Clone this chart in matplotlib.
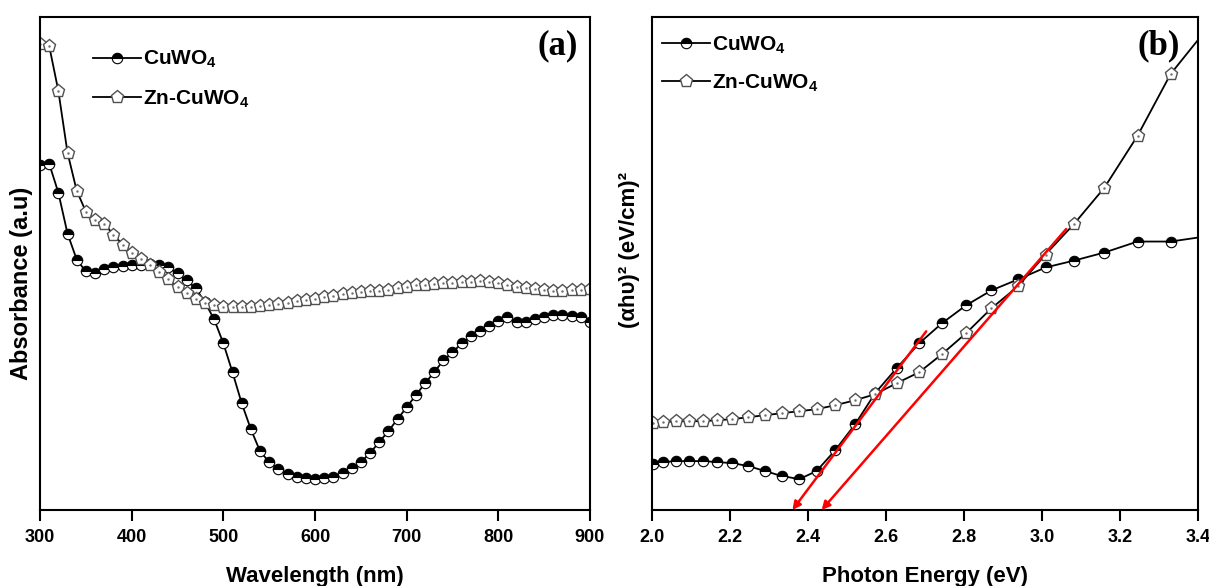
import matplotlib
matplotlib.use('Agg')
import matplotlib.pyplot as plt

# ---------------- data: panel (a) UV-vis absorbance ----------------
wavelength = list(range(300, 901, 10))
abs_cuwo4 = [3.46, 3.47, 3.18, 2.77, 2.51, 2.39, 2.37, 2.41, 2.43, 2.44,
             2.45, 2.45, 2.46, 2.45, 2.43, 2.37, 2.30, 2.22, 2.08, 1.91,
             1.67, 1.38, 1.07, 0.81, 0.59, 0.48, 0.41, 0.36, 0.33, 0.32,
             0.31, 0.32, 0.33, 0.37, 0.42, 0.48, 0.57, 0.68, 0.79, 0.91,
             1.03, 1.15, 1.27, 1.38, 1.50, 1.58, 1.67, 1.74, 1.79, 1.84,
             1.89, 1.93, 1.88, 1.88, 1.91, 1.93, 1.95, 1.95, 1.94, 1.93,
             1.88]
abs_zn_cuwo4 = [4.67, 4.65, 4.20, 3.58, 3.20, 2.99, 2.91, 2.87, 2.76, 2.66,
                2.58, 2.52, 2.45, 2.38, 2.31, 2.23, 2.17, 2.11, 2.07, 2.05,
                2.03, 2.03, 2.03, 2.03, 2.04, 2.05, 2.06, 2.07, 2.09, 2.10,
                2.11, 2.13, 2.14, 2.16, 2.17, 2.18, 2.19, 2.19, 2.20, 2.22,
                2.23, 2.25, 2.25, 2.26, 2.27, 2.27, 2.28, 2.28, 2.29, 2.28,
                2.27, 2.25, 2.23, 2.22, 2.21, 2.20, 2.19, 2.19, 2.20, 2.20,
                2.21]

# ---------------- data: panel (b) Tauc plot ----------------
photon_energy = [2.002, 2.027, 2.062, 2.096, 2.132, 2.167, 2.206, 2.247,
                 2.290, 2.333, 2.378, 2.422, 2.470, 2.521, 2.572, 2.627,
                 2.685, 2.743, 2.805, 2.870, 2.938, 3.009, 3.083, 3.160,
                 3.245, 3.330, 3.400]
tauc_cuwo4 = [0.46, 0.48, 0.49, 0.49, 0.49, 0.48, 0.47, 0.44, 0.39, 0.34,
              0.31, 0.39, 0.60, 0.86, 1.17, 1.42, 1.67, 1.87, 2.05, 2.20,
              2.31, 2.43, 2.50, 2.58, 2.69, 2.69, 2.73]
tauc_zn_cuwo4 = [0.87, 0.88, 0.89, 0.89, 0.89, 0.90, 0.91, 0.93, 0.95, 0.97,
                 0.99, 1.01, 1.05, 1.10, 1.16, 1.27, 1.38, 1.56, 1.77, 2.02,
                 2.24, 2.56, 2.87, 3.23, 3.75, 4.37, 4.71]

# band-gap extrapolation (tangent start -> intercept on energy axis)
band_gaps = [2.36, 2.435]
tangent_start_e = [2.703, 3.062]
tangent_start_y = [1.79, 2.815]

labels = ['CuWO$_4$', 'Zn-CuWO$_4$']
xticks_a = [300, 400, 500, 600, 700, 800, 900]
xticks_b = [2.0, 2.2, 2.4, 2.6, 2.8, 3.0, 3.2, 3.4]

# ---------------- style ----------------
SANS = ['Liberation Sans', 'DejaVu Sans']
plt.rcParams['font.family'] = SANS
plt.rcParams['font.weight'] = 'bold'
plt.rcParams['mathtext.fontset'] = 'custom'
plt.rcParams['mathtext.rm'] = 'Liberation Sans:bold'
plt.rcParams['mathtext.default'] = 'rm'

fig = plt.figure(figsize=(12.09, 5.86), dpi=100)
ax_a = fig.add_axes([0.0331, 0.1297, 0.4549, 0.8413])
ax_b = fig.add_axes([0.5393, 0.1297, 0.4516, 0.8413])

cu_style = dict(color='black', lw=1.3, marker='o', markersize=7.5,
                fillstyle='top', markerfacecolor='black',
                markerfacecoloralt='white', markeredgecolor='black',
                markeredgewidth=0.8)
zn_style = dict(color='black', lw=1.3, marker='p', markersize=9.5,
                markerfacecolor='white', markeredgecolor='#505050',
                markeredgewidth=1.0)
dot_style = dict(ls='none', marker='.', markersize=1.5, color='#707070')

# panel (a)
ax_a.plot(wavelength, abs_cuwo4, label=labels[0], **cu_style)
ax_a.plot(wavelength, abs_zn_cuwo4, label=labels[1], **zn_style)
ax_a.plot(wavelength, abs_zn_cuwo4, **dot_style)
ax_a.set_xlim(300, 900)
ax_a.set_ylim(0, 4.94)
ax_a.set_xticks(xticks_a)
ax_a.set_xlabel('Wavelength (nm)', fontsize=16, fontweight='bold', labelpad=14)
ax_a.set_ylabel('Absorbance (a.u)', fontsize=17, fontweight='bold')
ax_a.yaxis.set_label_coords(-0.013, 0.46)
ax_a.text(0.978, 0.975, '(a)', transform=ax_a.transAxes, ha='right', va='top',
          fontsize=25, fontweight='bold', family=['Liberation Serif', 'DejaVu Serif'])

# panel (b)
mk = slice(0, len(photon_energy) - 1)
ax_b.plot(photon_energy, tauc_cuwo4, label=labels[0], markevery=mk, **cu_style)
ax_b.plot(photon_energy, tauc_zn_cuwo4, label=labels[1], markevery=mk, **zn_style)
ax_b.plot(photon_energy[:-1], tauc_zn_cuwo4[:-1], **dot_style)
for g, xs, ys in zip(band_gaps, tangent_start_e, tangent_start_y):
    ax_b.annotate('', xy=(g, 0), xytext=(xs, ys), annotation_clip=False,
                  arrowprops=dict(arrowstyle='-|>', color='red', lw=1.8,
                                  mutation_scale=12, shrinkA=0, shrinkB=0))
ax_b.set_xlim(2.0, 3.4)
ax_b.set_ylim(0, 4.94)
ax_b.set_xticks(xticks_b)
ax_b.set_xticklabels([f'{v:.1f}' for v in xticks_b])
ax_b.set_xlabel('Photon Energy (eV)', fontsize=16, fontweight='bold', labelpad=14)
ax_b.set_ylabel('(αhυ)² (eV/cm)²', fontsize=16, fontweight='bold')
ax_b.yaxis.set_label_coords(-0.022, 0.527)
ax_b.text(0.967, 0.975, '(b)', transform=ax_b.transAxes, ha='right', va='top',
          fontsize=25, fontweight='bold', family=['Liberation Serif', 'DejaVu Serif'])

for ax, anchor, lsp in ((ax_a, (0.096, 0.935), 0.87), (ax_b, (0.018, 0.964), 0.78)):
    for s in ax.spines.values():
        s.set_linewidth(1.5)
    ax.set_yticks([])
    ax.tick_params(axis='x', direction='out', length=8, width=1.5,
                   labelsize=13, pad=6)
    for t in ax.get_xticklabels():
        t.set_fontweight('bold')
    ax.legend(loc='upper left', bbox_to_anchor=anchor, frameon=False,
              borderpad=0, borderaxespad=0, handlelength=2.3,
              handletextpad=0.1, labelspacing=lsp, numpoints=1,
              prop=dict(size=15, weight='bold', family=SANS))

fig.savefig('out.png', dpi=100)
